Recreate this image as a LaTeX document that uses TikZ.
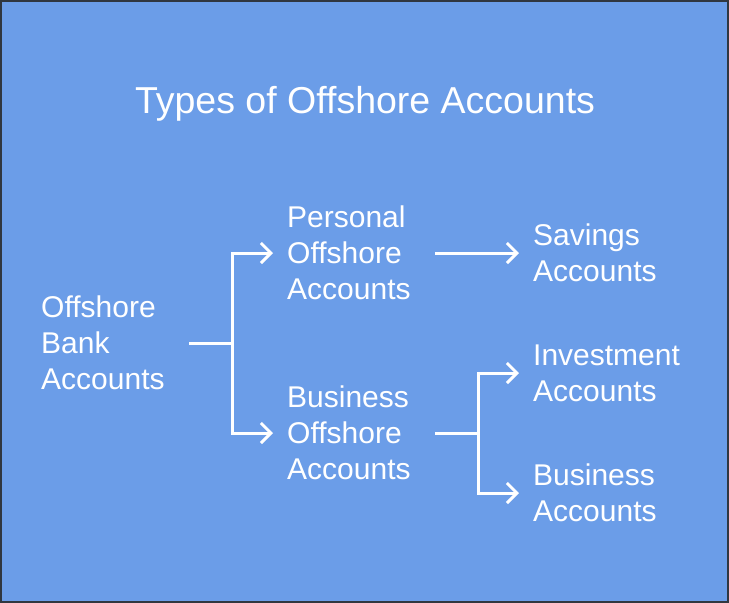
\documentclass[tikz,border=0pt]{standalone}
\usepackage{fontspec}
\setmainfont{Liberation Sans}
\usetikzlibrary{arrows.meta}
\definecolor{bgblue}{RGB}{107,157,232}
\definecolor{frame}{RGB}{48,55,64}
\tikzset{
  x=1pt, y=-1pt,
  lbl/.style={text=white, font=\fontsize{30}{36}\selectfont, align=left, anchor=west, inner ysep=0pt},
  conn/.style={draw=white, line width=3pt},
  arr/.style={conn, -{Straight Barb[length=10pt,width=20pt]}},
}
\begin{document}
\begin{tikzpicture}
\useasboundingbox (0,0) rectangle (729,603);
\draw[fill=bgblue, draw=frame, line width=2pt] (1,1) rectangle (728,602);
\node[text=white, font=\fontsize{37.5}{42}\selectfont, inner sep=0pt] (title) at (365,104) {Types of Offshore Accounts};
\node[lbl, inner xsep=0pt, text width=148pt] (bank) at (41,343) {Offshore\\Bank\\Accounts};
\node[lbl, inner xsep=14pt, text width=134pt] (personal) at (273,253) {Personal\\Offshore\\Accounts};
\node[lbl, inner xsep=14pt, text width=134pt] (business) at (273,433) {Business\\Offshore\\Accounts};
\node[lbl, inner xsep=14pt, text width=170pt] (savings) at (519,253) {Savings\\Accounts};
\node[lbl, inner xsep=14pt, text width=170pt] (invest) at (519,373) {Investment\\Accounts};
\node[lbl, inner xsep=14pt, text width=170pt] (busacc) at (519,493) {Business\\Accounts};
\coordinate (j1) at (232,343);
\coordinate (j2) at (478,433);
\draw[conn] (bank.east) -- (j1);
\draw[arr] (j1) |- (personal.west);
\draw[arr] (j1) |- (business.west);
\draw[arr] (personal.east) -- (savings.west);
\draw[conn] (business.east) -- (j2);
\draw[arr] (j2) |- (invest.west);
\draw[arr] (j2) |- (busacc.west);
\end{tikzpicture}
\end{document}
